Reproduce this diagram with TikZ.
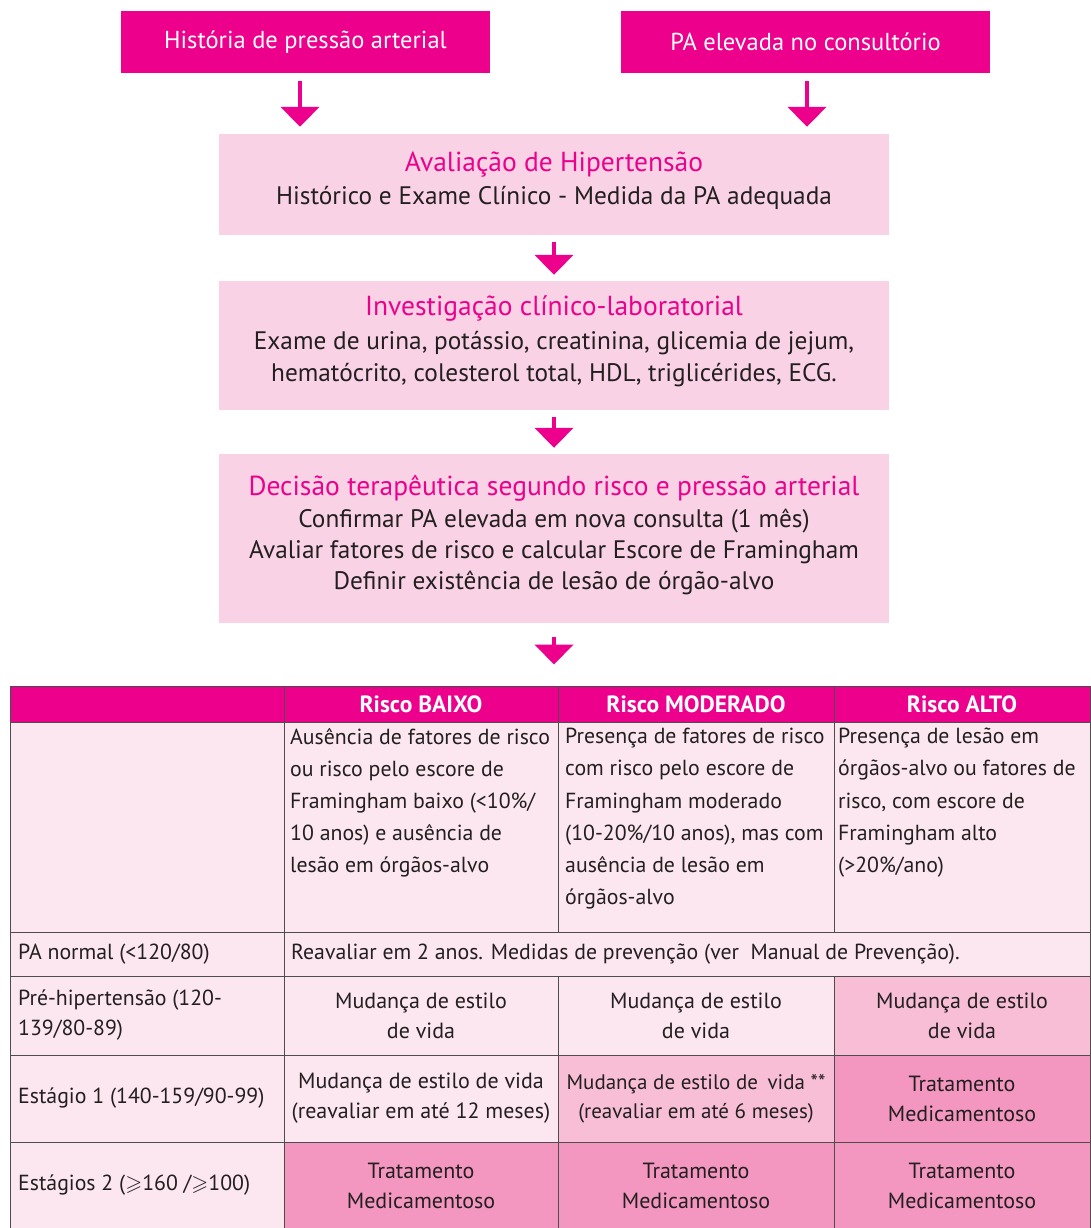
\documentclass[tikz,border=0pt]{standalone}
\usepackage{amssymb}
\usepackage{fontspec}
\setmainfont{PT Sans}
\usetikzlibrary{arrows.meta,calc}
\definecolor{mag}{HTML}{EC008C}
\definecolor{boxpink}{HTML}{F9D3E5}
\definecolor{tlight}{HTML}{FCE7F0}
\definecolor{tmed}{HTML}{F7BED6}
\definecolor{tdark}{HTML}{F397C0}
\definecolor{ink}{HTML}{231F20}
\definecolor{rule}{HTML}{4D4D4D}
\begin{document}
\begin{tikzpicture}[x=1pt,y=-1pt,
  topbox/.style={fill=mag, text=white, minimum width=369, minimum height=62, inner sep=0,
    font=\fontsize{24.5}{28}\selectfont},
  flowbox/.style={fill=boxpink, minimum width=670, inner sep=0},
  ttl/.style={text=mag, inner sep=0, font=\fontsize{27.5}{32}\selectfont},
  body/.style={text=ink, inner sep=0, font=\fontsize{25.3}{30}\selectfont},
  arr/.style={draw=mag, line width=4.5pt, -{Triangle[width=38pt,length=20pt]}},
  cell/.style={draw=rule, line width=1pt, inner sep=0, text=ink, align=center,
    font=\fontsize{22}{30}\selectfont},
  hcell/.style={cell, fill=mag, text=white, font=\fontsize{23.5}{28}\bfseries},
  ctext/.style={inner sep=0, text=ink, align=left, anchor=north west,
    font=\fontsize{21.8}{32.2}\selectfont},
  ltext/.style={inner sep=0, text=ink, align=left, anchor=west,
    font=\fontsize{21.8}{30}\selectfont}
]
\useasboundingbox (0,0) rectangle (1091,1228);

% top boxes
\node[topbox] (h1) at (305.5,42) {História de pressão arterial};
\node[topbox] (h2) at (805.5,42) {PA elevada no consultório};

% flow boxes
\node[flowbox, minimum height=101] (aval) at (554,184.5) {};
\node[ttl] (avalT) at (554,165) {Avaliação de Hipertensão};
\node[body] (avalB) at (554,198) {Histórico e Exame Clínico - Medida da PA adequada};

\node[flowbox, minimum height=129] (inv) at (554,345.5) {};
\node[ttl] (invT) at (554,309) {Investigação clínico-laboratorial};
\node[body] (invB1) at (554,343) {Exame de urina, potássio, creatinina, glicemia de jejum,};
\node[body] (invB2) at (554,375) {hematócrito, colesterol total, HDL, triglicérides, ECG.};

\node[flowbox, minimum height=169] (dec) at (554,538.5) {};
\node[ttl] (decT) at (554,488) {Decisão terapêutica segundo risco e pressão arterial};
\node[body] (decB1) at (554,521) {Confirmar PA elevada em nova consulta (1 mês)};
\node[body] (decB2) at (554,552) {Avaliar fatores de risco e calcular Escore de Framingham};
\node[body] (decB3) at (554,583) {Definir existência de lesão de órgão-alvo};

% table
\node[hcell, minimum width=274, minimum height=36] (hc0) at (147,704) {};
\node[hcell, minimum width=274, minimum height=36] (hc1) at (421,704) {Risco BAIXO};
\node[hcell, minimum width=276, minimum height=36] (hc2) at (696,704) {Risco MODERADO};
\node[hcell, minimum width=256, minimum height=36] (hc3) at (962,704) {Risco ALTO};

\node[cell, fill=tlight, minimum width=274, minimum height=210] (d0) at (147,827) {};
\node[cell, fill=tlight, minimum width=274, minimum height=210] (d1) at (421,827) {};
\node[cell, fill=tlight, minimum width=276, minimum height=210] (d2) at (696,827) {};
\node[cell, fill=tlight, minimum width=256, minimum height=210] (d3) at (962,827) {};
\node[ctext] (d1t) at (290,728) {Ausência de fatores de risco\\ou risco pelo escore de\\Framingham baixo (<10\%/\\10 anos) e ausência de\\lesão em órgãos-alvo};
\node[ctext] (d2t) at (565,728) {Presença de fatores de risco\\com risco pelo escore de\\Framingham moderado\\(10-20\%/10 anos), mas com\\ausência de lesão em\\órgãos-alvo};
\node[ctext] (d3t) at (838,728) {Presença de lesão em\\órgãos-alvo ou fatores de\\risco, com escore de\\Framingham alto\\(>20\%/ano)};

\node[cell, fill=tlight, minimum width=274, minimum height=44] (n0) at (147,954) {};
\node[cell, fill=tlight, minimum width=806, minimum height=44] (n1) at (687,954) {};
\node[ltext] (n0t) at (18,954) {PA normal (<120/80)};
\node[ltext] (n1t) at (291,954) {Reavaliar em 2 anos. Medidas de prevenção (ver \ Manual de Prevenção).};

\node[cell, fill=tlight, minimum width=274, minimum height=79] (p0) at (147,1015.5) {};
\node[cell, fill=tlight, minimum width=274, minimum height=79] (p1) at (421,1015.5) {Mudança de estilo\\de vida};
\node[cell, fill=tlight, minimum width=276, minimum height=79] (p2) at (696,1015.5) {Mudança de estilo\\de vida};
\node[cell, fill=tmed, minimum width=256, minimum height=79] (p3) at (962,1015.5) {Mudança de estilo\\de vida};
\node[ltext] (p0t) at (18,1015.5) {Pré-hipertensão (120-\\139/80-89)};

\node[cell, fill=tlight, minimum width=274, minimum height=87] (s0) at (147,1098.5) {};
\node[cell, fill=tlight, minimum width=274, minimum height=87] (s1) at (421,1098.5) {Mudança de estilo de vida\\(reavaliar em até 12 meses)};
\node[cell, fill=tmed, minimum width=276, minimum height=87, font=\fontsize{21}{29}\selectfont] (s2) at (696,1098.5) {Mudança de estilo de\hspace{4pt} vida **\\(reavaliar em até 6 meses)};
\node[cell, fill=tdark, minimum width=256, minimum height=87] (s3) at (962,1098.5) {Tratamento\\Medicamentoso};
\node[ltext] (s0t) at (18,1098.5) {Estágio 1 (140-159/90-99)};

\node[cell, fill=tlight, minimum width=274, minimum height=88] (e0) at (147,1186) {};
\node[cell, fill=tdark, minimum width=274, minimum height=88] (e1) at (421,1186) {Tratamento\\Medicamentoso};
\node[cell, fill=tdark, minimum width=276, minimum height=88] (e2) at (696,1186) {Tratamento\\Medicamentoso};
\node[cell, fill=tdark, minimum width=256, minimum height=88] (e3) at (962,1186) {Tratamento\\Medicamentoso};
\node[ltext] (e0t) at (18,1185) {Estágios 2 ($\geqslant$160 /$\geqslant$100)};

% arrows
\draw[arr] ($(h1.south)+(-5.5,8)$) -- ($(h1.south |- aval.north)+(-5.5,-7)$);
\draw[arr] ($(h2.south)+(1.5,8)$) -- ($(h2.south |- aval.north)+(1.5,-7)$);
\draw[arr] ($(aval.south)+(0,7)$) -- ($(inv.north)+(0,-6)$);
\draw[arr] ($(inv.south)+(0,7)$) -- ($(dec.north)+(0,-6)$);
\draw[arr] ($(dec.south)+(0,14)$) -- ($(dec.south |- hc2.north)+(0,-21)$);
\end{tikzpicture}
\end{document}
